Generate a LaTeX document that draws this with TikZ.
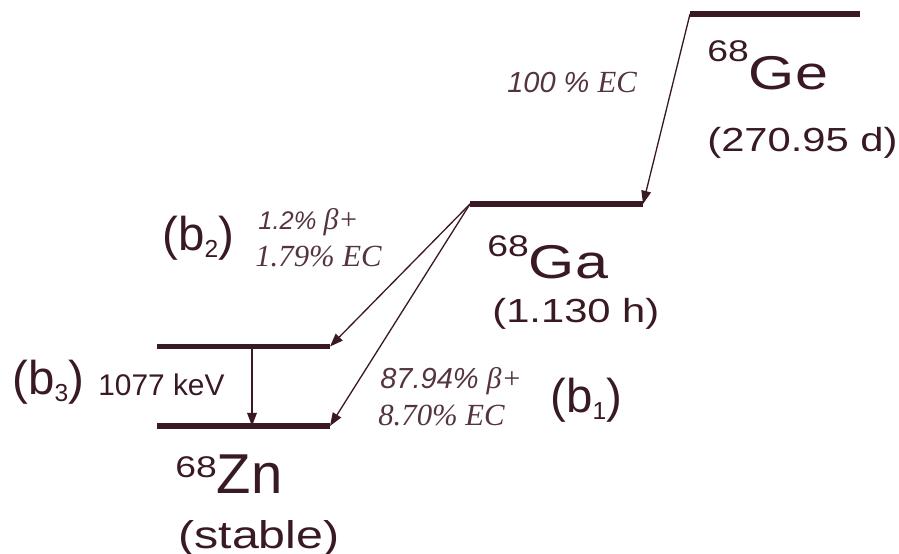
\documentclass[tikz,border=0pt]{standalone}
\usepackage{fontspec}
\setmainfont{Liberation Sans}
\newfontfamily\widesf[FakeStretch=1.25]{Liberation Sans}
\newfontfamily\timesf{Liberation Serif}
\usetikzlibrary{arrows.meta, positioning}
\definecolor{ink}{RGB}{58,26,34}
\definecolor{softink}{RGB}{84,52,62}

% isotope: raise, mass number, symbol
\newcommand{\iso}[3]{\raisebox{#1}{\widesf\fontsize{17}{17}\selectfont #2}#3}
% branch label (b_n)
\newcommand{\branch}[1]{(b\raisebox{-4.5pt}{\fontsize{14}{14}\selectfont #1})}

\begin{document}
\begin{tikzpicture}[
  x=0.02cm, y=-0.02cm,
  level/.style={line width=3.2pt, ink},
  decay/.style={-{Triangle[length=7.5pt, width=5.5pt]}, line width=0.75pt, ink},
  txt/.style={inner sep=0pt, anchor=base west, text=ink},
  nuc/.style={txt, font=\widesf\fontsize{27}{27}\selectfont},
  life/.style={txt, font=\widesf\fontsize{19}{19}\selectfont},
  frac/.style={txt, text=softink, font=\itshape\fontsize{16.5}{17}\selectfont},
  fracsf/.style={txt, text=softink, font=\timesf\itshape\fontsize{17.5}{18}\selectfont}
]
\useasboundingbox (0,0) rectangle (899,554);

% level ends
\coordinate (ge-l) at (690,14);
\coordinate (ge-r) at (860,14);
\coordinate (ga-l) at (470,204);
\coordinate (ga-r) at (643,204);
\coordinate (zx-l) at (157,346.5);
\coordinate (zx-r) at (330,346.5);
\coordinate (zn-l) at (157,426);
\coordinate (zn-r) at (330,426);
\coordinate (gam-t) at (252,346.5);
\coordinate (gam-b) at (252,426);

\draw[level] (ge-l) -- (ge-r);
\draw[level] (ga-l) -- (ga-r);
\draw[level] (zx-l) -- (zx-r);
\draw[level] (zn-l) -- (zn-r);

\draw[decay] (ge-l) -- (ga-r);
\draw[decay] (ga-l) -- (zx-r);
\draw[decay] (ga-l) -- (zn-r);
\draw[decay] (gam-t) -- (gam-b);

% nuclides
\node[nuc] (ge) at (707,90) {\iso{16pt}{68}{Ge}};
\node[life] (ge-t) at (707,152) {(270.95 d)};
\node[nuc] (ga) at (487,278) {\iso{12pt}{68}{Ga}};
\node[life] (ga-t) at (492,322) {(1.130 h)};
\node[txt, font=\fontsize{32}{32}\selectfont] (zn) at (175,493) {\iso{9pt}{68}{Zn}};
\node[txt, font=\widesf\fontsize{22}{22}\selectfont] (zn-t) at (178,548) {(stable)};

% branches
\node[frac] (ec) at (507,92) {100 \% {\timesf\fontsize{17.5}{18}\selectfont EC}};
\node[txt, font=\fontsize{27}{27}\selectfont] (b2) at (162,250) {\branch{2}};
\node[frac, font=\itshape\fontsize{14.5}{15}\selectfont] (b2-bp) at (258,229) {1.2\% {\timesf\fontsize{17}{18}\selectfont β+}};
\node[fracsf] (b2-ec) at (255,266) {1.79\% EC};
\node[txt, font=\fontsize{27}{27}\selectfont] (b3) at (12,394) {\branch{3}};
\node[txt, font=\fontsize{17}{17}\selectfont] (gam) at (98,395) {1077 keV};
\node[frac] (b1-bp) at (380,388) {87.94\% {\timesf\fontsize{17}{18}\selectfont β+}};
\node[fracsf] (b1-ec) at (378,425) {8.70\% EC};
\node[txt, font=\fontsize{27}{27}\selectfont] (b1) at (550,412) {\branch{1}};

\end{tikzpicture}
\end{document}
